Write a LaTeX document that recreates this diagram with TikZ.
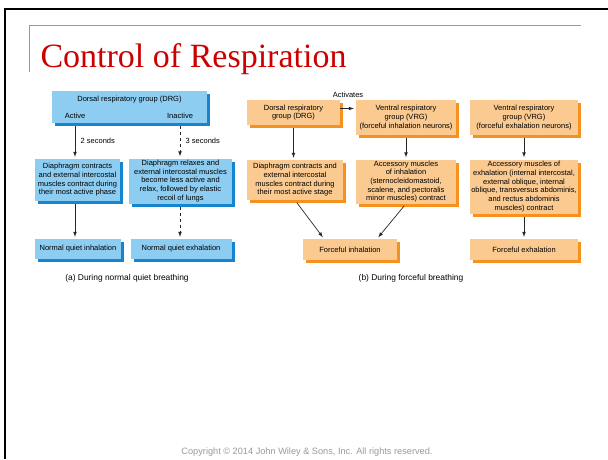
\documentclass[tikz,border=0pt]{standalone}
\usepackage{fontspec}
\setmainfont{Liberation Sans}
\newfontfamily\titlefont{Liberation Serif}
\usetikzlibrary{positioning,shadows}

\definecolor{quietfill}{RGB}{141,205,242}
\definecolor{quietshade}{RGB}{22,132,206}
\definecolor{forcefill}{RGB}{251,202,144}
\definecolor{forceshade}{RGB}{246,145,32}
\definecolor{titlered}{RGB}{204,0,0}

\begin{document}
\begin{tikzpicture}[x=1pt, y=-1pt,
      every node/.style = {align=center, font=\fontsize{7.5}{8.7}\selectfont},
      quiet/.style    = {fill=quietfill, inner sep=1pt,
                         drop shadow={shadow xshift=3pt, shadow yshift=-3pt, fill=quietshade, opacity=1}},
      forceful/.style = {fill=forcefill, inner sep=1pt,
                         drop shadow={shadow xshift=3pt, shadow yshift=-3pt, fill=forceshade, opacity=1}},
      flow/.style     = {draw=black!85, line width=0.7pt, -latex, shorten <=3pt, shorten >=2pt},
      caption/.style  = {font=\fontsize{8.4}{10}\selectfont}
    ]
    \useasboundingbox (0,0) rectangle (608,459);

    % slide frame
    \draw[line width=2pt] (4.5,459) -- (4.5,8.5) -- (608,8.5);
    \draw[black!40, line width=1pt] (29,72) -- (29,25) -- (581,25);
    \node (title) [anchor=base west, text=titlered, font=\titlefont\fontsize{34}{40}\selectfont] at (37,67) {Control of Respiration};

    % (a) normal quiet breathing
    \node (drgq)     [quiet, minimum width=155pt, minimum height=32pt] at (129.5,107) {};
    \node (drgqtext) at (129.5,100) {Dorsal respiratory group (DRG)};
    \node (active)   at (75,116)  {Active};
    \node (inactive) at (180,116) {Inactive};

    \node (contract) [quiet, minimum width=85pt, minimum height=42pt] at (77.5,180)
      {Diaphragm contracts\\and external intercostal\\muscles contract during\\their most active phase};
    \node (relax)    [quiet, minimum width=103pt, minimum height=45pt, inner ysep=0.5pt] at (180.5,181)
      {Diaphragm relaxes and\\external intercostal muscles\\become less active and\\relax, followed by elastic\\recoil of lungs};
    \node (inhale)   [quiet, minimum width=86pt, minimum height=20pt] at (78,249)   {Normal quiet inhalation};
    \node (exhale)   [quiet, minimum width=101pt, minimum height=20pt] at (181,249) {Normal quiet exhalation};
    \node (capa)     [caption] at (127,278) {(a) During normal quiet breathing};

    \draw[flow]         (drgq.south -| active)   -- node[right=2pt] {2 seconds} (contract.north -| active);
    \draw[flow, dashed] (drgq.south -| inactive) -- node[right=2pt] {3 seconds} (relax.north -| inactive);
    \draw[flow]         (contract.south -| active) -- (inhale.north -| active);
    \draw[flow, dashed] (relax.south -| inactive)  -- (exhale.north -| inactive);

    % (b) forceful breathing
    \node (drgf)      [forceful, minimum width=93pt, minimum height=25pt] at (293.5,112.5)
      {Dorsal respiratory\\group (DRG)};
    \node (vrgin)     [forceful, minimum width=100pt, minimum height=35pt] at (406,117.5)
      {Ventral respiratory\\group (VRG)\\(forceful inhalation neurons)};
    \node (vrgex)     [forceful, minimum width=108pt, minimum height=35pt] at (524,117.5)
      {Ventral respiratory\\group (VRG)\\(forceful exhalation neurons)};
    \node (contractf) [forceful, minimum width=96pt, minimum height=40pt] at (295,180)
      {Diaphragm contracts and\\external intercostal\\muscles contract during\\their most active stage};
    \node (accin)     [forceful, minimum width=100pt, minimum height=44pt] at (406,181.5)
      {Accessory muscles\\of inhalation\\(sternocleidomastoid,\\scalene, and pectoralis\\minor muscles) contract};
    \node (accex)     [forceful, minimum width=108pt, minimum height=54pt] at (524,186.5)
      {Accessory muscles of\\exhalation (internal intercostal,\\external oblique, internal\\oblique, transversus abdominis,\\and rectus abdominis\\muscles) contract};
    \node (finhale)   [forceful, minimum width=94pt, minimum height=21pt] at (350,249.5)  {Forceful inhalation};
    \node (fexhale)   [forceful, minimum width=108pt, minimum height=21pt] at (524,249.5) {Forceful exhalation};
    \node (capb)      [caption] at (411,278) {(b) During forceful breathing};

    \draw[flow, shorten <=0pt] ([yshift=4pt]drgf.east) -- node[above=7pt] {Activates} ([yshift=4pt]drgf.east -| vrgin.west);
    \draw[flow] (drgf.south)      -- (drgf.south |- contractf.north);
    \draw[flow] (vrgin.south)     -- (vrgin.south |- accin.north);
    \draw[flow] (vrgex.south)     -- (accex.north);
    \draw[flow] (contractf.south) -- ([xshift=-26pt]finhale.north);
    \draw[flow] (accin.south)     -- ([xshift=27pt]finhale.north);
    \draw[flow] (accex.south)     -- (fexhale.north);

    \node (copyright) [text=black!40, font=\fontsize{9.2}{11}\selectfont] at (307,452)
      {Copyright © 2014 John Wiley \& Sons, Inc. All rights reserved.};
  \end{tikzpicture}
\end{document}
